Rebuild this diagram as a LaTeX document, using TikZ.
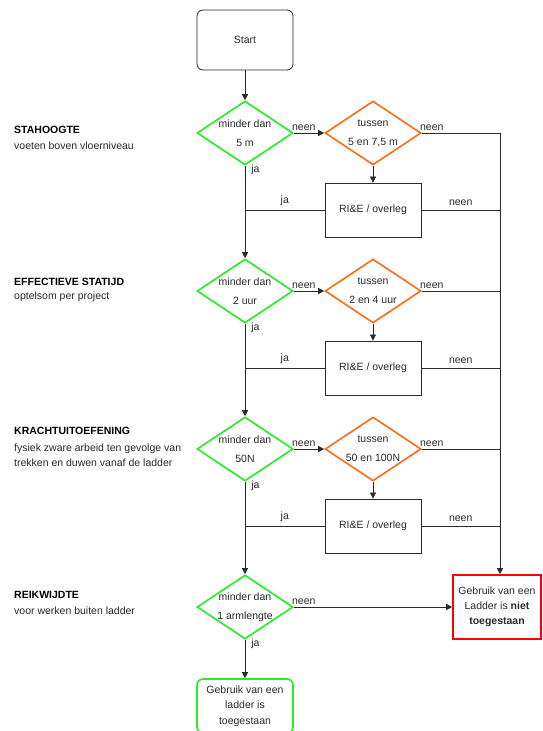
\documentclass[tikz,border=0pt]{standalone}
\usepackage{fontspec}
\setmainfont{Liberation Sans}
\usetikzlibrary{shapes.geometric,arrows.meta}
\definecolor{okgreen}{HTML}{22EE22}
\definecolor{midorange}{HTML}{FF6A13}
\definecolor{stopred}{HTML}{FF0000}
\definecolor{ink}{HTML}{2A2A2A}
\tikzset{
  txt/.style={font=\fontsize{10.5}{16}\selectfont, text=ink, inner sep=1pt},
  diatxt/.style={txt, font=\fontsize{10.5}{19}\selectfont, align=center},
  head/.style={txt, font=\fontsize{10.5}{16}\selectfont\bfseries, text=black, anchor=west},
  startbox/.style={txt, draw=ink, line width=0.8pt, rounded corners=6pt,
    minimum width=96pt, minimum height=60pt},
  greendia/.style={diamond, draw=okgreen, line width=1.6pt, inner sep=0pt,
    minimum width=96pt, minimum height=64pt},
  orangedia/.style={diamond, draw=midorange, line width=1.6pt, inner sep=0pt,
    minimum width=96pt, minimum height=64pt},
  riebox/.style={txt, draw=ink, line width=0.8pt, minimum width=96pt, minimum height=54pt},
  stopbox/.style={txt, align=center, font=\fontsize{10.5}{15}\selectfont, draw=stopred,
    line width=1.6pt, minimum width=88pt, minimum height=64pt},
  okbox/.style={txt, align=center, font=\fontsize{10.5}{15.5}\selectfont, draw=okgreen,
    line width=1.6pt, rounded corners=6pt, minimum width=96pt, minimum height=54pt},
  flow/.style={draw=ink, line width=0.7pt},
  arr/.style={flow, -{Triangle[length=6pt,width=6pt]}},
  nolbl/.style={txt, pos=0, anchor=south west, xshift=-3pt, yshift=1pt},
  jalbl/.style={txt, pos=0, anchor=west, xshift=5pt, yshift=-4pt},
  midlbl/.style={txt, midway, above, yshift=3pt},
}
\begin{document}
\begin{tikzpicture}[x=1pt,y=-1pt]
\useasboundingbox[fill=white] (0,0) rectangle (542,731);

% left column: criteria
\node[head] (h1) at (13,130) {STAHOOGTE};
\node[txt, anchor=west] (t1) at (13,146) {voeten boven vloerniveau};
\node[head] (h2) at (13,282) {EFFECTIEVE STATIJD};
\node[txt, anchor=west] (t2) at (13,297) {optelsom per project};
\node[head] (h3) at (13,431) {KRACHTUITOEFENING};
\node[txt, anchor=west, align=left, font=\fontsize{10.5}{15.5}\selectfont] (t3) at (13,455)
  {fysiek zware arbeid ten gevolge van\\trekken en duwen vanaf de ladder};
\node[head] (h4) at (13,595) {REIKWIJDTE};
\node[txt, anchor=west] (t4) at (13,611) {voor werken buiten ladder};

% flow nodes
\node[startbox] (start) at (245,40) {Start};

\node[greendia, label={[diatxt]center:minder dan\\5 m}] (d1) at (245,133) {};
\node[orangedia, label={[diatxt]center:tussen\\5 en 7,5 m}] (o1) at (373,133) {};
\node[riebox] (b1) at (373,210) {RI\&E / overleg};

\node[greendia, label={[diatxt]center:minder dan\\2 uur}] (d2) at (245,291) {};
\node[orangedia, label={[diatxt]center:tussen\\2 en 4 uur}] (o2) at (373,291) {};
\node[riebox] (b2) at (373,368) {RI\&E / overleg};

\node[greendia, label={[diatxt]center:minder dan\\50N}] (d3) at (245,449) {};
\node[orangedia, label={[diatxt]center:tussen\\50 en 100N}] (o3) at (373,449) {};
\node[riebox] (b3) at (373,526) {RI\&E / overleg};

\node[greendia, label={[diatxt]center:minder dan\\1 armlengte}] (d4) at (245,607) {};
\node[stopbox] (stop) at (497,607) {Gebruik van een\\Ladder is \textbf{niet}\\\textbf{toegestaan}};
\node[okbox] (ok) at (245,706) {Gebruik van een\\ladder is\\toegestaan};

\coordinate (r1) at (500,133);
\coordinate (r2) at (500,291);
\coordinate (r3) at (500,449);

% connectors
\draw[arr] (start) -- (d1);

\draw[arr] (d1.east) -- node[nolbl]{neen} (o1.west);
\draw[arr] (o1.south) -- (b1.north);
\draw[flow] (o1.east) -- node[nolbl]{neen} (r1);
\draw[flow] (b1.west) -- node[midlbl]{ja} (b1.west -| d1.south);
\draw[flow] (b1.east) -- node[midlbl]{neen} (b1.east -| r1);
\draw[arr] (d1.south) -- node[jalbl]{ja} (d2.north);

\draw[arr] (d2.east) -- node[nolbl]{neen} (o2.west);
\draw[arr] (o2.south) -- (b2.north);
\draw[flow] (o2.east) -- node[nolbl]{neen} (r2);
\draw[flow] (b2.west) -- node[midlbl]{ja} (b2.west -| d2.south);
\draw[flow] (b2.east) -- node[midlbl]{neen} (b2.east -| r2);
\draw[arr] (d2.south) -- node[jalbl]{ja} (d3.north);

\draw[arr] (d3.east) -- node[nolbl]{neen} (o3.west);
\draw[arr] (o3.south) -- (b3.north);
\draw[flow] (o3.east) -- node[nolbl]{neen} (r3);
\draw[flow] (b3.west) -- node[midlbl]{ja} (b3.west -| d3.south);
\draw[flow] (b3.east) -- node[midlbl]{neen} (b3.east -| r3);
\draw[arr] (d3.south) -- node[jalbl]{ja} (d4.north);

\draw[arr] (r1) -- (r1 |- stop.north);
\draw[arr] (d4.east) -- node[nolbl]{neen} (stop.west);
\draw[arr] (d4.south) -- node[jalbl]{ja} (ok.north);
\end{tikzpicture}
\end{document}
